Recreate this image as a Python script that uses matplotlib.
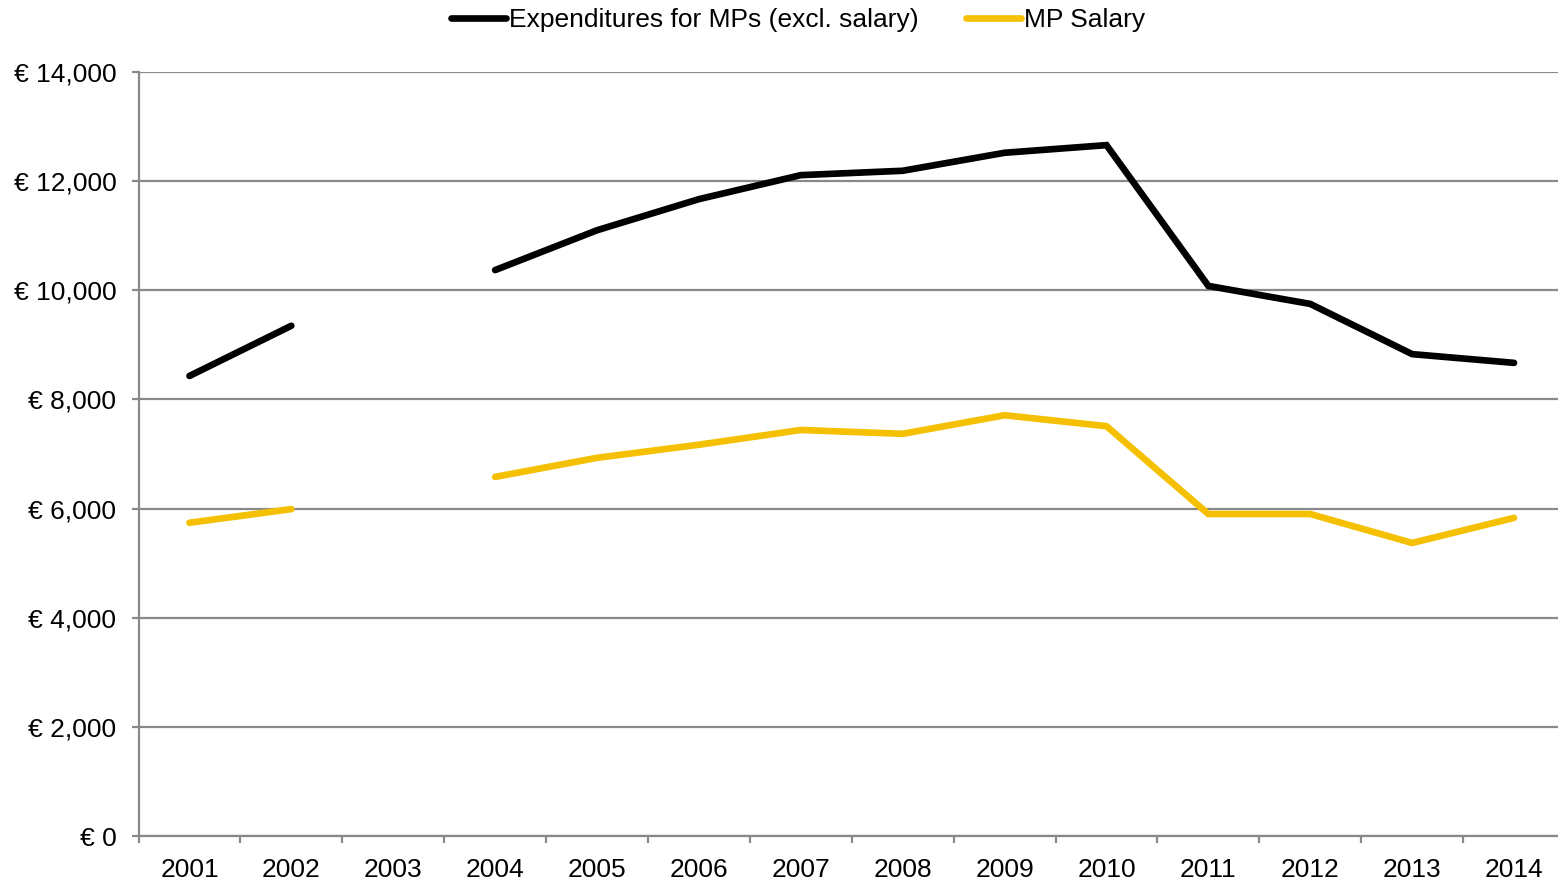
import numpy as np
import matplotlib
matplotlib.use("Agg")
import matplotlib.pyplot as plt
from matplotlib.ticker import FuncFormatter

plt.rcParams['font.family'] = ['Liberation Sans', 'DejaVu Sans']

years = ["2001", "2002", "2003", "2004", "2005", "2006", "2007",
         "2008", "2009", "2010", "2011", "2012", "2013", "2014"]

# 2003 has no figures
expenditures = [8430, 9350, np.nan, 10370, 11100, 11670, 12110,
                12190, 12520, 12660, 10080, 9750, 8830, 8670]
salary = [5740, 5990, np.nan, 6580, 6930, 7170, 7440,
          7370, 7710, 7510, 5900, 5900, 5370, 5830]

grey = "#898989"
fs = 19

fig = plt.figure(figsize=(15.58, 8.82), dpi=100)
ax = fig.add_axes([138.5 / 1558, 1 - 836 / 882, (1565 - 138.5) / 1558, (836 - 72) / 882])

x = np.arange(len(years))
ax.plot(x, expenditures, color="black", lw=4.8, solid_capstyle="round",
        solid_joinstyle="miter", label="Expenditures for MPs (excl. salary)")
ax.plot(x, salary, color="#f5c000", lw=4.8, solid_capstyle="round",
        solid_joinstyle="miter", label="MP Salary")

ax.set_xlim(-0.5, len(years) - 0.5)
ax.set_ylim(0, 14000)
ax.set_yticks(range(0, 14001, 2000))
ax.yaxis.set_major_formatter(FuncFormatter(lambda v, p: "€ {:,.0f}".format(v)))
ax.grid(axis="y", color=grey, lw=1.6)
ax.set_axisbelow(True)

ax.set_xticks(x)
ax.set_xticklabels(years)
ax.set_xticks(np.arange(-0.5, len(years)), minor=True)
ax.tick_params(axis="x", which="major", length=0, pad=15.5, labelsize=fs)
ax.tick_params(axis="x", which="minor", length=5, width=1.6, color=grey)
ax.tick_params(axis="y", length=5, width=1.6, color=grey, pad=11, labelsize=fs)

for side in ["top", "right"]:
    ax.spines[side].set_visible(False)
for side in ["left", "bottom"]:
    ax.spines[side].set_color(grey)
    ax.spines[side].set_linewidth(1.6)

fig.legend(loc="center", bbox_to_anchor=(0.512, 1 - 20.5 / 882), ncol=2,
           frameon=False, fontsize=fs, handlelength=2.1, handletextpad=0.1,
           columnspacing=1.8, borderaxespad=0)

fig.savefig("out.png", dpi=100)
